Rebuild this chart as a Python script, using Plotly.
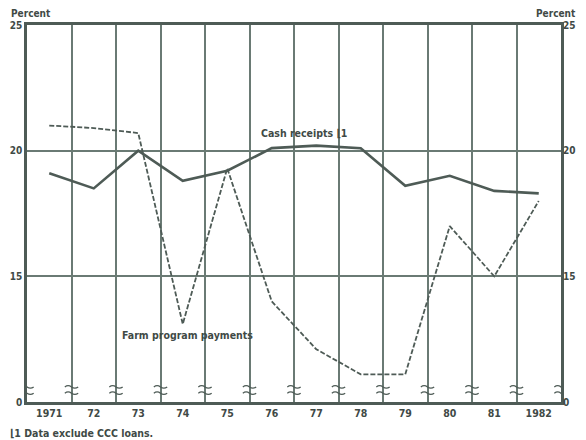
import plotly.graph_objects as go

years = [1971, 1972, 1973, 1974, 1975, 1976, 1977, 1978, 1979, 1980, 1981, 1982]
year_labels = ["1971", "72", "73", "74", "75", "76", "77", "78", "79", "80", "81", "1982"]
cash_receipts = [19.1, 18.5, 20.0, 18.8, 19.2, 20.1, 20.2, 20.1, 18.6, 19.0, 18.4, 18.3]
farm_program = [21.0, 20.9, 20.7, 13.1, 19.3, 14.0, 12.1, 11.1, 11.1, 17.0, 15.0, 18.0]
y_tickvals = [10, 15, 20, 25]
y_ticktext = ["0", "15", "20", "25"]

INK = "#3f4a46"
LINE = "#4e5b56"
GRID = "#6a7a74"
FONT = "Liberation Sans Narrow, DejaVu Sans Condensed, Arial Narrow, sans-serif"

fig = go.Figure()
fig.add_trace(go.Scatter(x=years, y=cash_receipts, mode="lines",
                         line=dict(color=LINE, width=2.6), showlegend=False, hoverinfo="skip"))
fig.add_trace(go.Scatter(x=years, y=farm_program, mode="lines",
                         line=dict(color=LINE, width=1.8, dash="5px,2px"), showlegend=False, hoverinfo="skip"))
fig.add_trace(go.Scatter(x=[years[0]], y=[cash_receipts[0]], yaxis="y2", mode="none",
                         showlegend=False, hoverinfo="skip"))

x_lo, x_hi = years[0] - 0.5, years[-1] + 0.5
yr = [y_tickvals[0], y_tickvals[-1]]

# axis-break marks on each vertical grid line
shapes = []
n_grid = len(years) + 1
w = 0.15
for i in range(n_grid):
    gx = x_lo + i
    for yy in (10.6, 10.35):
        d = 0.1
        path = (f"M {gx - w},{yy} Q {gx - w/2},{yy + d} {gx},{yy} "
                f"T {gx + w},{yy}")
        shapes.append(dict(type="path", path=path, xref="x", yref="y",
                           line=dict(color=LINE, width=1.3)))

# page body has an 8px margin, so the figure is shrunk and shifted to compensate
PAGE_OFF = 8
PW, PH = 534, 377          # plot area size
PL, PT = 27, 25            # plot area left/top in page pixels

def px(xp):
    return (xp - PL) / PW

def py(yp):
    return (PT + PH - yp) / PH

def f(size):
    return dict(family=FONT, size=size, color=INK, weight="bold")

fig.update_layout(
    width=586 - PAGE_OFF, height=440 - PAGE_OFF,
    margin=dict(l=PL - PAGE_OFF, r=25, t=PT - PAGE_OFF, b=38, autoexpand=False),
    paper_bgcolor="white", plot_bgcolor="white",
    shapes=shapes,
    xaxis=dict(range=[x_lo, x_hi], tickvals=years, ticktext=year_labels, automargin=False,
               showgrid=False, zeroline=False, ticks="",
               showline=True, mirror=True, linecolor=LINE, linewidth=2.5,
               tickfont=f(10.5),
               minor=dict(tick0=x_lo, dtick=1, showgrid=True, gridcolor=GRID, gridwidth=1.5, ticks="")),
    yaxis=dict(range=yr, tickvals=y_tickvals, ticktext=y_ticktext, automargin=False,
               showgrid=True, gridcolor=GRID, gridwidth=1.5, zeroline=False, ticks="",
               showline=True, mirror=True, linecolor=LINE, linewidth=2.5,
               tickfont=f(10), ticklabelstandoff=0),
    yaxis2=dict(range=yr, tickvals=y_tickvals, ticktext=y_ticktext, overlaying="y", side="right",
                automargin=False, showgrid=False, zeroline=False, ticks="", showline=False,
                tickfont=f(10), ticklabelstandoff=1),
    annotations=[
        dict(text="Percent", x=px(31), y=py(13), xref="paper", yref="paper",
             xanchor="center", yanchor="middle", showarrow=False, font=f(10)),
        dict(text="Percent", x=px(556), y=py(13), xref="paper", yref="paper",
             xanchor="center", yanchor="middle", showarrow=False, font=f(10)),
        dict(text="Cash receipts ⌊1", x=1976.72, y=20.7, xref="x", yref="y",
             showarrow=False, xanchor="center", yanchor="middle", font=f(10.5)),
        dict(text="Farm program payments", x=1974.1, y=12.66, xref="x", yref="y",
             showarrow=False, xanchor="center", yanchor="middle", font=f(10.5)),
        dict(text="⌊1 Data exclude CCC loans.", x=px(PAGE_OFF), y=py(433),
             xref="paper", yref="paper", xanchor="left", yanchor="middle",
             showarrow=False, font=f(10.5)),
    ],
)

fig.write_html("out.html")
